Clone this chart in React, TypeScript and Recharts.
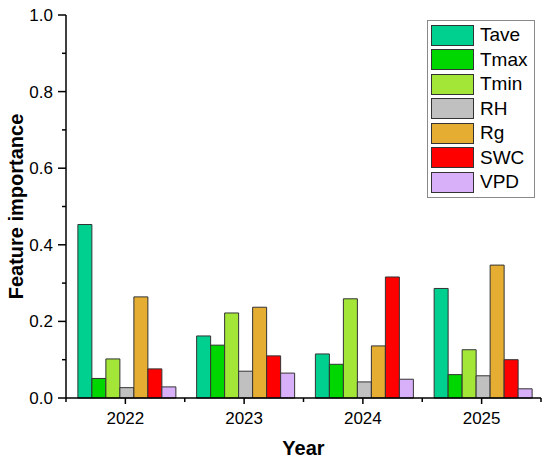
import { Bar, BarChart, Legend, XAxis, YAxis } from 'recharts'

const years = ['2022', '2023', '2024', '2025']
const features = ['Tave', 'Tmax', 'Tmin', 'RH', 'Rg', 'SWC', 'VPD']
const colors = ['#00D08F', '#00D600', '#A4E637', '#C0C0C0', '#E5AE32', '#FF0000', '#D8B0FA']

const tave = [0.453, 0.162, 0.115, 0.286]
const tmax = [0.051, 0.138, 0.088, 0.061]
const tmin = [0.102, 0.222, 0.259, 0.126]
const rh = [0.027, 0.07, 0.042, 0.058]
const rg = [0.264, 0.237, 0.136, 0.347]
const swc = [0.076, 0.11, 0.316, 0.1]
const vpd = [0.029, 0.065, 0.049, 0.024]

const yTicks = [0, 0.1, 0.2, 0.3, 0.4, 0.5, 0.6, 0.7, 0.8, 0.9, 1.0]

const series = [tave, tmax, tmin, rh, rg, swc, vpd]

const data = years.map((year, i) => {
    const row: Record<string, string | number> = { year }
    features.forEach((f, j) => {
        row[f] = series[j][i]
    })
    return row
})

const font = '"Liberation Sans", Arial, sans-serif'

// y tick: long tick + label on even tenths, short tick only on odd tenths
const YTick = (props: any) => {
    const { x, y, payload } = props
    const axisX = x + 8 + 5
    const major = Math.round(payload.value * 10) % 2 === 0
    return (
        <g>
            <line
                x1={axisX}
                x2={axisX - (major ? 8 : 4)}
                y1={y}
                y2={y}
                stroke="#000"
                strokeWidth={1.5}
            />
            {major && (
                <text
                    x={x}
                    y={y}
                    dy="0.35em"
                    textAnchor="end"
                    fontFamily={font}
                    fontSize={17}
                    fill="#000"
                >
                    {payload.value.toFixed(1)}
                </text>
            )}
        </g>
    )
}

// x tick: major tick at the category, short ticks at the band edges
const XTick = (props: any) => {
    const { x, y, payload, index, width, visibleTicksCount } = props
    const axisY = y - 6 - 8
    const half = width / visibleTicksCount / 2
    const edges = index === visibleTicksCount - 1 ? [x - half, x + half] : [x - half]
    return (
        <g>
            <line x1={x} x2={x} y1={axisY} y2={axisY + 6} stroke="#000" strokeWidth={1.5} />
            {edges.map((ex) => (
                <line
                    key={ex}
                    x1={ex}
                    x2={ex}
                    y1={axisY}
                    y2={axisY + 4}
                    stroke="#000"
                    strokeWidth={1.5}
                />
            ))}
            <text
                x={x}
                y={y}
                dy="0.71em"
                textAnchor="middle"
                fontFamily={font}
                fontSize={17}
                fill="#000"
            >
                {payload.value}
            </text>
        </g>
    )
}

const LegendBox = () => (
    <div
        style={{
            border: '1px solid #8a8a8a',
            background: '#fff',
            padding: '2px 6px 2px 3px',
            fontFamily: font,
            fontSize: 19,
            color: '#000',
        }}
    >
        {features.map((f, i) => (
            <div
                key={f}
                style={{ display: 'flex', alignItems: 'center', height: 24.5 }}
            >
                <div
                    style={{
                        width: 41,
                        height: 19,
                        background: colors[i],
                        border: '1px solid #333',
                        marginRight: 6,
                    }}
                />
                <span>{f}</span>
            </div>
        ))}
    </div>
)

export default function App() {
    return (
        <div style={{ position: 'absolute', left: 0, top: 0, background: '#fff' }}>
            <BarChart
                width={550}
                height={462}
                data={data}
                margin={{ top: 15, right: 9, left: 0, bottom: 34 }}
                barCategoryGap="10%"
                barGap={0}
            >
                <XAxis
                    dataKey="year"
                    height={30}
                    tickSize={6}
                    tickMargin={8}
                    interval={0}
                    axisLine={{ stroke: '#000', strokeWidth: 1.5 }}
                    tickLine={false}
                    tick={<XTick />}
                    label={{
                        content: ({ viewBox }: any) => (
                            <text
                                x={viewBox.x + viewBox.width / 2}
                                y={viewBox.y + 57}
                                textAnchor="middle"
                                fontFamily={font}
                                fontWeight="bold"
                                fontSize={20}
                                fill="#000"
                            >
                                Year
                            </text>
                        ),
                    }}
                />
                <XAxis
                    xAxisId="top"
                    orientation="top"
                    dataKey="year"
                    height={0}
                    tick={false}
                    tickLine={false}
                    axisLine={{ stroke: '#000', strokeWidth: 1.5 }}
                />
                <YAxis
                    type="number"
                    domain={[0, 1]}
                    ticks={yTicks}
                    interval={0}
                    width={66}
                    tickSize={8}
                    tickMargin={5}
                    axisLine={{ stroke: '#000', strokeWidth: 1.5 }}
                    tickLine={false}
                    tick={<YTick />}
                    label={{
                        content: ({ viewBox }: any) => {
                            const cx = 23
                            const cy = viewBox.y + viewBox.height / 2
                            return (
                                <text
                                    x={cx}
                                    y={cy}
                                    transform={`rotate(-90 ${cx} ${cy})`}
                                    textAnchor="middle"
                                    fontFamily={font}
                                    fontWeight="bold"
                                    fontSize={20}
                                    fill="#000"
                                >
                                    Feature importance
                                </text>
                            )
                        },
                    }}
                />
                <YAxis
                    yAxisId="right"
                    orientation="right"
                    type="number"
                    domain={[0, 1]}
                    width={0}
                    tick={false}
                    tickLine={false}
                    axisLine={{ stroke: '#000', strokeWidth: 1.5 }}
                />
                <Legend
                    layout="vertical"
                    align="center"
                    verticalAlign="middle"
                    content={() => <LegendBox />}
                    wrapperStyle={{ position: 'absolute', left: 427, top: 20, width: 'auto' }}
                />
                {features.map((f, i) => (
                    <Bar
                        key={f}
                        dataKey={f}
                        fill={colors[i]}
                        stroke="#333"
                        strokeWidth={1}
                        isAnimationActive={false}
                    />
                ))}
            </BarChart>
        </div>
    )
}
